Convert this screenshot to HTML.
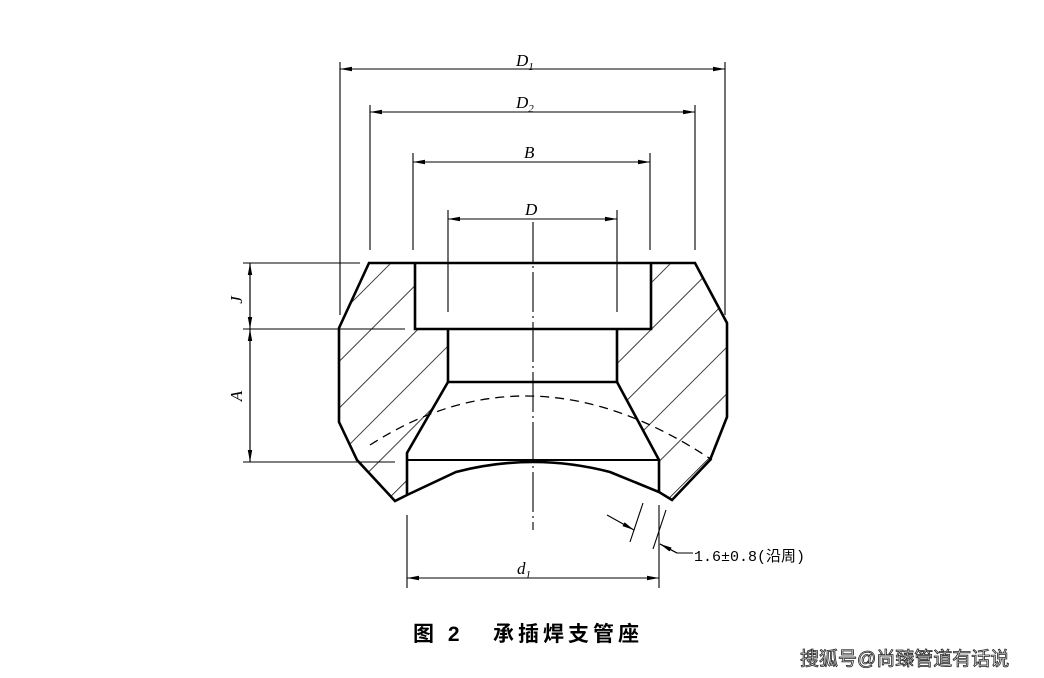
<!DOCTYPE html>
<html><head><meta charset="utf-8"><style>
html,body{margin:0;padding:0;background:#fff;}
svg{display:block;}
</style></head><body>
<svg width="1044" height="678" viewBox="0 0 1044 678" xmlns="http://www.w3.org/2000/svg">
<defs>
<marker id="ar" viewBox="0 0 12 6" refX="12" refY="3" markerWidth="12" markerHeight="6" orient="auto" markerUnits="userSpaceOnUse">
<path d="M0,0.8 L12,3 L0,5.2 z" fill="#000"/></marker>
<pattern id="hatch" patternUnits="userSpaceOnUse" width="33" height="33" patternTransform="rotate(45)">
<line x1="0" y1="0" x2="0" y2="33" stroke="#000" stroke-width="1.5"/></pattern>
<clipPath id="lc"><path d="M369,263 L415,263 L415,329 L448,329 L448,382 L407,453 L407,495 L395,501 L357,460 L339,422 L339,328 Z"/></clipPath>
<clipPath id="rc"><path d="M651,263 L695,263 L727,323 L727,417 L710,460 L672,500 L659,492 L659,460 L617,382 L617,329 L651,329 Z"/></clipPath>
</defs>
<rect x="300" y="250" width="460" height="260" fill="url(#hatch)" clip-path="url(#lc)"/>
<rect x="300" y="250" width="460" height="260" fill="url(#hatch)" clip-path="url(#rc)"/>
<g fill="none" stroke="#000" stroke-width="2.6" stroke-linejoin="miter">
<path d="M369,263 L695,263 L727,323 L727,417 L710,460 L672,500 L659,492 L610,472 Q533,452 456,472 L407,495 L395,501 L357,460 L339,422 L339,328 Z"/>
<path d="M415,263 L415,329 L651,329 L651,263"/>
<path d="M448,329 L448,382 L617,382 L617,329"/>
<path d="M448,382 L407,453 L407,495 M617,382 L659,460 L659,492"/>
<path d="M407,460 L659,460" stroke-width="2"/>
</g>
<path d="M370,445 Q533,340 712,460" fill="none" stroke="#000" stroke-width="1.3" stroke-dasharray="9,6"/>
<g stroke="#000" stroke-width="1.1" fill="none">
<path d="M533,222 L533,530" stroke-dasharray="40,4,2,4"/>
<path d="M340,62 L340,315 M725,62 L725,315 M370,105 L370,250 M695,105 L695,250 M413,153 L413,250 M650,153 L650,250 M448,210 L448,312 M617,210 L617,312"/>
<path d="M243,263 L360,263 M243,329 L405,329 M243,462 L395,462"/>
<path d="M407,515 L407,588 M659,505 L659,588"/>
<line x1="340" y1="69" x2="725" y2="69" marker-end="url(#ar)"/>
<line x1="725" y1="69" x2="340" y2="69" marker-end="url(#ar)"/>
<line x1="370" y1="112" x2="695" y2="112" marker-end="url(#ar)"/>
<line x1="695" y1="112" x2="370" y2="112" marker-end="url(#ar)"/>
<line x1="413" y1="162" x2="650" y2="162" marker-end="url(#ar)"/>
<line x1="650" y1="162" x2="413" y2="162" marker-end="url(#ar)"/>
<line x1="448" y1="219" x2="617" y2="219" marker-end="url(#ar)"/>
<line x1="617" y1="219" x2="448" y2="219" marker-end="url(#ar)"/>
<line x1="250" y1="263" x2="250" y2="329" marker-end="url(#ar)"/>
<line x1="250" y1="329" x2="250" y2="263" marker-end="url(#ar)"/>
<line x1="250" y1="329" x2="250" y2="462" marker-end="url(#ar)"/>
<line x1="250" y1="462" x2="250" y2="329" marker-end="url(#ar)"/>
<line x1="407" y1="578" x2="659" y2="578" marker-end="url(#ar)"/>
<line x1="659" y1="578" x2="407" y2="578" marker-end="url(#ar)"/>
<path d="M643,503 L630,542 M666,510 L653,549"/>
<line x1="607" y1="515" x2="634" y2="530" marker-end="url(#ar)"/>
<path d="M693,553 L677,553 L660,544"/>
<line x1="677" y1="553" x2="660" y2="544" marker-end="url(#ar)"/>
</g>
<g font-style="italic" font-size="17" fill="#000" style="font-family:'Liberation Serif',serif">
<text x="516" y="66">D<tspan font-size="11" dy="4">1</tspan></text>
<text x="516" y="108">D<tspan font-size="11" dy="4">2</tspan></text>
<text x="524" y="158">B</text>
<text x="525" y="215">D</text>
<text x="517" y="574">d<tspan font-size="11" dy="4">1</tspan></text>
<text transform="translate(242,300) rotate(-90)" text-anchor="middle">J</text>
<text transform="translate(242,396) rotate(-90)" text-anchor="middle">A</text>
</g>
<text x="694" y="561" font-size="15" fill="#000" style="font-family:'Liberation Mono','Noto Sans CJK SC',monospace">1.6±0.8(沿周)</text>
<text x="413" y="641" font-size="21" font-weight="bold" fill="#000" style="font-family:'Liberation Sans','Noto Sans CJK SC',sans-serif;letter-spacing:4px;white-space:pre">图 2   承插焊支管座</text>
<text x="800" y="665" font-size="19" fill="#fff" stroke="#222" stroke-width="0.8" style="font-family:'Liberation Sans','Noto Sans CJK SC',sans-serif">搜狐号@尚臻管道有话说</text>
</svg>
</body></html>
